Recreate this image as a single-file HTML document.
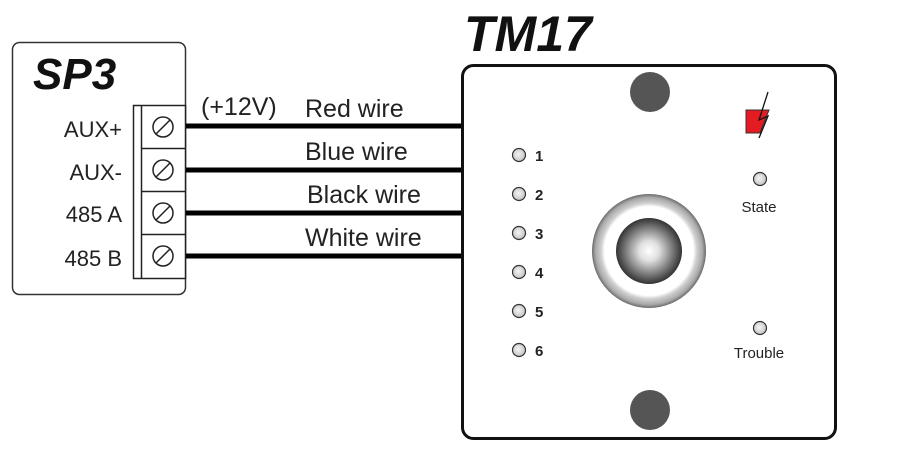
<!DOCTYPE html>
<html><head><meta charset="utf-8"><style>
html,body{margin:0;padding:0;background:#fff;}
svg{display:block;}
</style></head><body>
<svg width="914" height="456" viewBox="0 0 914 456" xmlns="http://www.w3.org/2000/svg">
<defs>
<radialGradient id="btn" cx="0.5" cy="0.5" r="0.5">
<stop offset="0" stop-color="#ffffff"/>
<stop offset="0.3" stop-color="#e0e0e0"/>
<stop offset="1" stop-color="#333333"/>
</radialGradient>
<radialGradient id="ring" cx="0.5" cy="0.5" r="0.5">
<stop offset="0.78" stop-color="#ffffff"/>
<stop offset="0.84" stop-color="#d0d0d0"/>
<stop offset="0.94" stop-color="#a8a8a8"/>
<stop offset="1" stop-color="#6a6a6a"/>
</radialGradient>
<radialGradient id="led" cx="0.45" cy="0.45" r="0.55">
<stop offset="0" stop-color="#f4f4f4"/>
<stop offset="1" stop-color="#c4c4c4"/>
</radialGradient>
</defs>
<g font-family="Liberation Sans, sans-serif">
<rect x="12.5" y="42.5" width="173" height="252" rx="7" fill="#fff" stroke="#333" stroke-width="1.5"/>
<text x="33" y="89" font-size="44" font-weight="bold" font-style="italic" fill="#111">SP3</text>
<text x="122" y="137" font-size="22" text-anchor="end" fill="#222">AUX+</text>
<text x="122" y="180" font-size="22" text-anchor="end" fill="#222">AUX-</text>
<text x="122" y="222" font-size="22" text-anchor="end" fill="#222">485 A</text>
<text x="122" y="266" font-size="22" text-anchor="end" fill="#222">485 B</text>
<rect x="133.5" y="105.5" width="52" height="173" fill="#fff" stroke="#222" stroke-width="1.5"/>
<line x1="141.5" y1="105.5" x2="141.5" y2="278.5" stroke="#222" stroke-width="1.5"/>
<g stroke="#222" stroke-width="1.5" fill="none">
<line x1="141.5" y1="148.5" x2="185.5" y2="148.5"/>
<line x1="141.5" y1="191.5" x2="185.5" y2="191.5"/>
<line x1="141.5" y1="234.5" x2="185.5" y2="234.5"/>
<circle cx="163" cy="127" r="10"/><line x1="156" y1="134" x2="170" y2="120"/>
<circle cx="163" cy="170" r="10"/><line x1="156" y1="177" x2="170" y2="163"/>
<circle cx="163" cy="213" r="10"/><line x1="156" y1="220" x2="170" y2="206"/>
<circle cx="163" cy="256" r="10"/><line x1="156" y1="263" x2="170" y2="249"/>
</g>
<g stroke="#000" stroke-width="5">
<line x1="186" y1="126" x2="464" y2="126"/>
<line x1="186" y1="170" x2="464" y2="170"/>
<line x1="186" y1="213" x2="464" y2="213"/>
<line x1="186" y1="256" x2="464" y2="256"/>
</g>
<g font-size="25" fill="#222">
<text x="201" y="115">(+12V)</text>
<text x="305" y="117">Red wire</text>
<text x="305" y="160">Blue wire</text>
<text x="307" y="203">Black wire</text>
<text x="305" y="246">White wire</text>
</g>
<text x="464" y="51" font-size="50" font-weight="bold" font-style="italic" fill="#111">TM17</text>
<rect x="462.5" y="65.5" width="373" height="373" rx="11" fill="#fff" stroke="#111" stroke-width="3"/>
<circle cx="650" cy="92" r="20" fill="#555"/>
<circle cx="650" cy="410" r="20" fill="#555"/>
<g fill="url(#led)" stroke="#333" stroke-width="1.2">
<circle cx="519" cy="155" r="6.5"/><circle cx="519" cy="194" r="6.5"/>
<circle cx="519" cy="233" r="6.5"/><circle cx="519" cy="272" r="6.5"/>
<circle cx="519" cy="311" r="6.5"/><circle cx="519" cy="350" r="6.5"/>
<circle cx="760" cy="179" r="6.5"/><circle cx="760" cy="328" r="6.5"/>
</g>
<g font-size="15" font-weight="bold" fill="#222">
<text x="535" y="161">1</text><text x="535" y="200">2</text>
<text x="535" y="239">3</text><text x="535" y="278">4</text>
<text x="535" y="317">5</text><text x="535" y="356">6</text>
</g>
<text x="759" y="212" font-size="15" text-anchor="middle" fill="#222">State</text>
<text x="759" y="358" font-size="15" text-anchor="middle" fill="#222">Trouble</text>
<circle cx="649" cy="251" r="57" fill="url(#ring)"/>
<circle cx="649" cy="251" r="33" fill="url(#btn)"/>
<polygon points="746,110 769,110 760,133 746,133" fill="#e41b23" stroke="#333" stroke-width="1"/>
<polyline points="768,92 759,120 768,116 759,138" fill="none" stroke="#111" stroke-width="1.3"/>
</g>
</svg>
</body></html>
